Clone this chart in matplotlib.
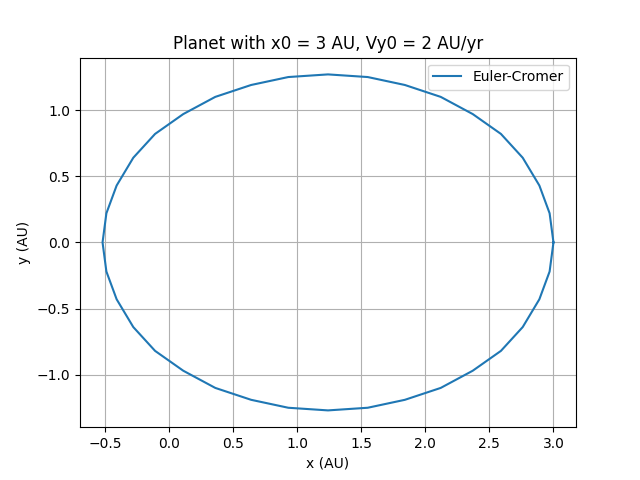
import matplotlib
matplotlib.use("Agg")
import matplotlib.pyplot as plt

# orbit points (counter-clockwise from x = 3)
x_au = [3.00, 2.97, 2.89, 2.76, 2.59, 2.37, 2.12, 1.84, 1.55, 1.24, 0.93, 0.64, 0.36, 0.11,
        -0.11, -0.28, -0.41, -0.49, -0.52,
        -0.49, -0.41, -0.28, -0.11, 0.11, 0.36, 0.64, 0.93, 1.24, 1.55, 1.84, 2.12, 2.37,
        2.59, 2.76, 2.89, 2.97, 3.00]
y_au = [0.00, 0.22, 0.43, 0.64, 0.82, 0.97, 1.10, 1.19, 1.25, 1.27, 1.25, 1.19, 1.10, 0.97,
        0.82, 0.64, 0.43, 0.22, 0.00,
        -0.22, -0.43, -0.64, -0.82, -0.97, -1.10, -1.19, -1.25, -1.27, -1.25, -1.19, -1.10,
        -0.97, -0.82, -0.64, -0.43, -0.22, 0.00]

fig, ax = plt.subplots(figsize=(6.4, 4.8), dpi=100)
ax.plot(x_au, y_au, label="Euler-Cromer")
ax.set_title("Planet with x0 = 3 AU, Vy0 = 2 AU/yr")
ax.set_xlabel("x (AU)")
ax.set_ylabel("y (AU)")
ax.grid(True)
ax.legend(loc="upper right")
fig.savefig("out.png")
